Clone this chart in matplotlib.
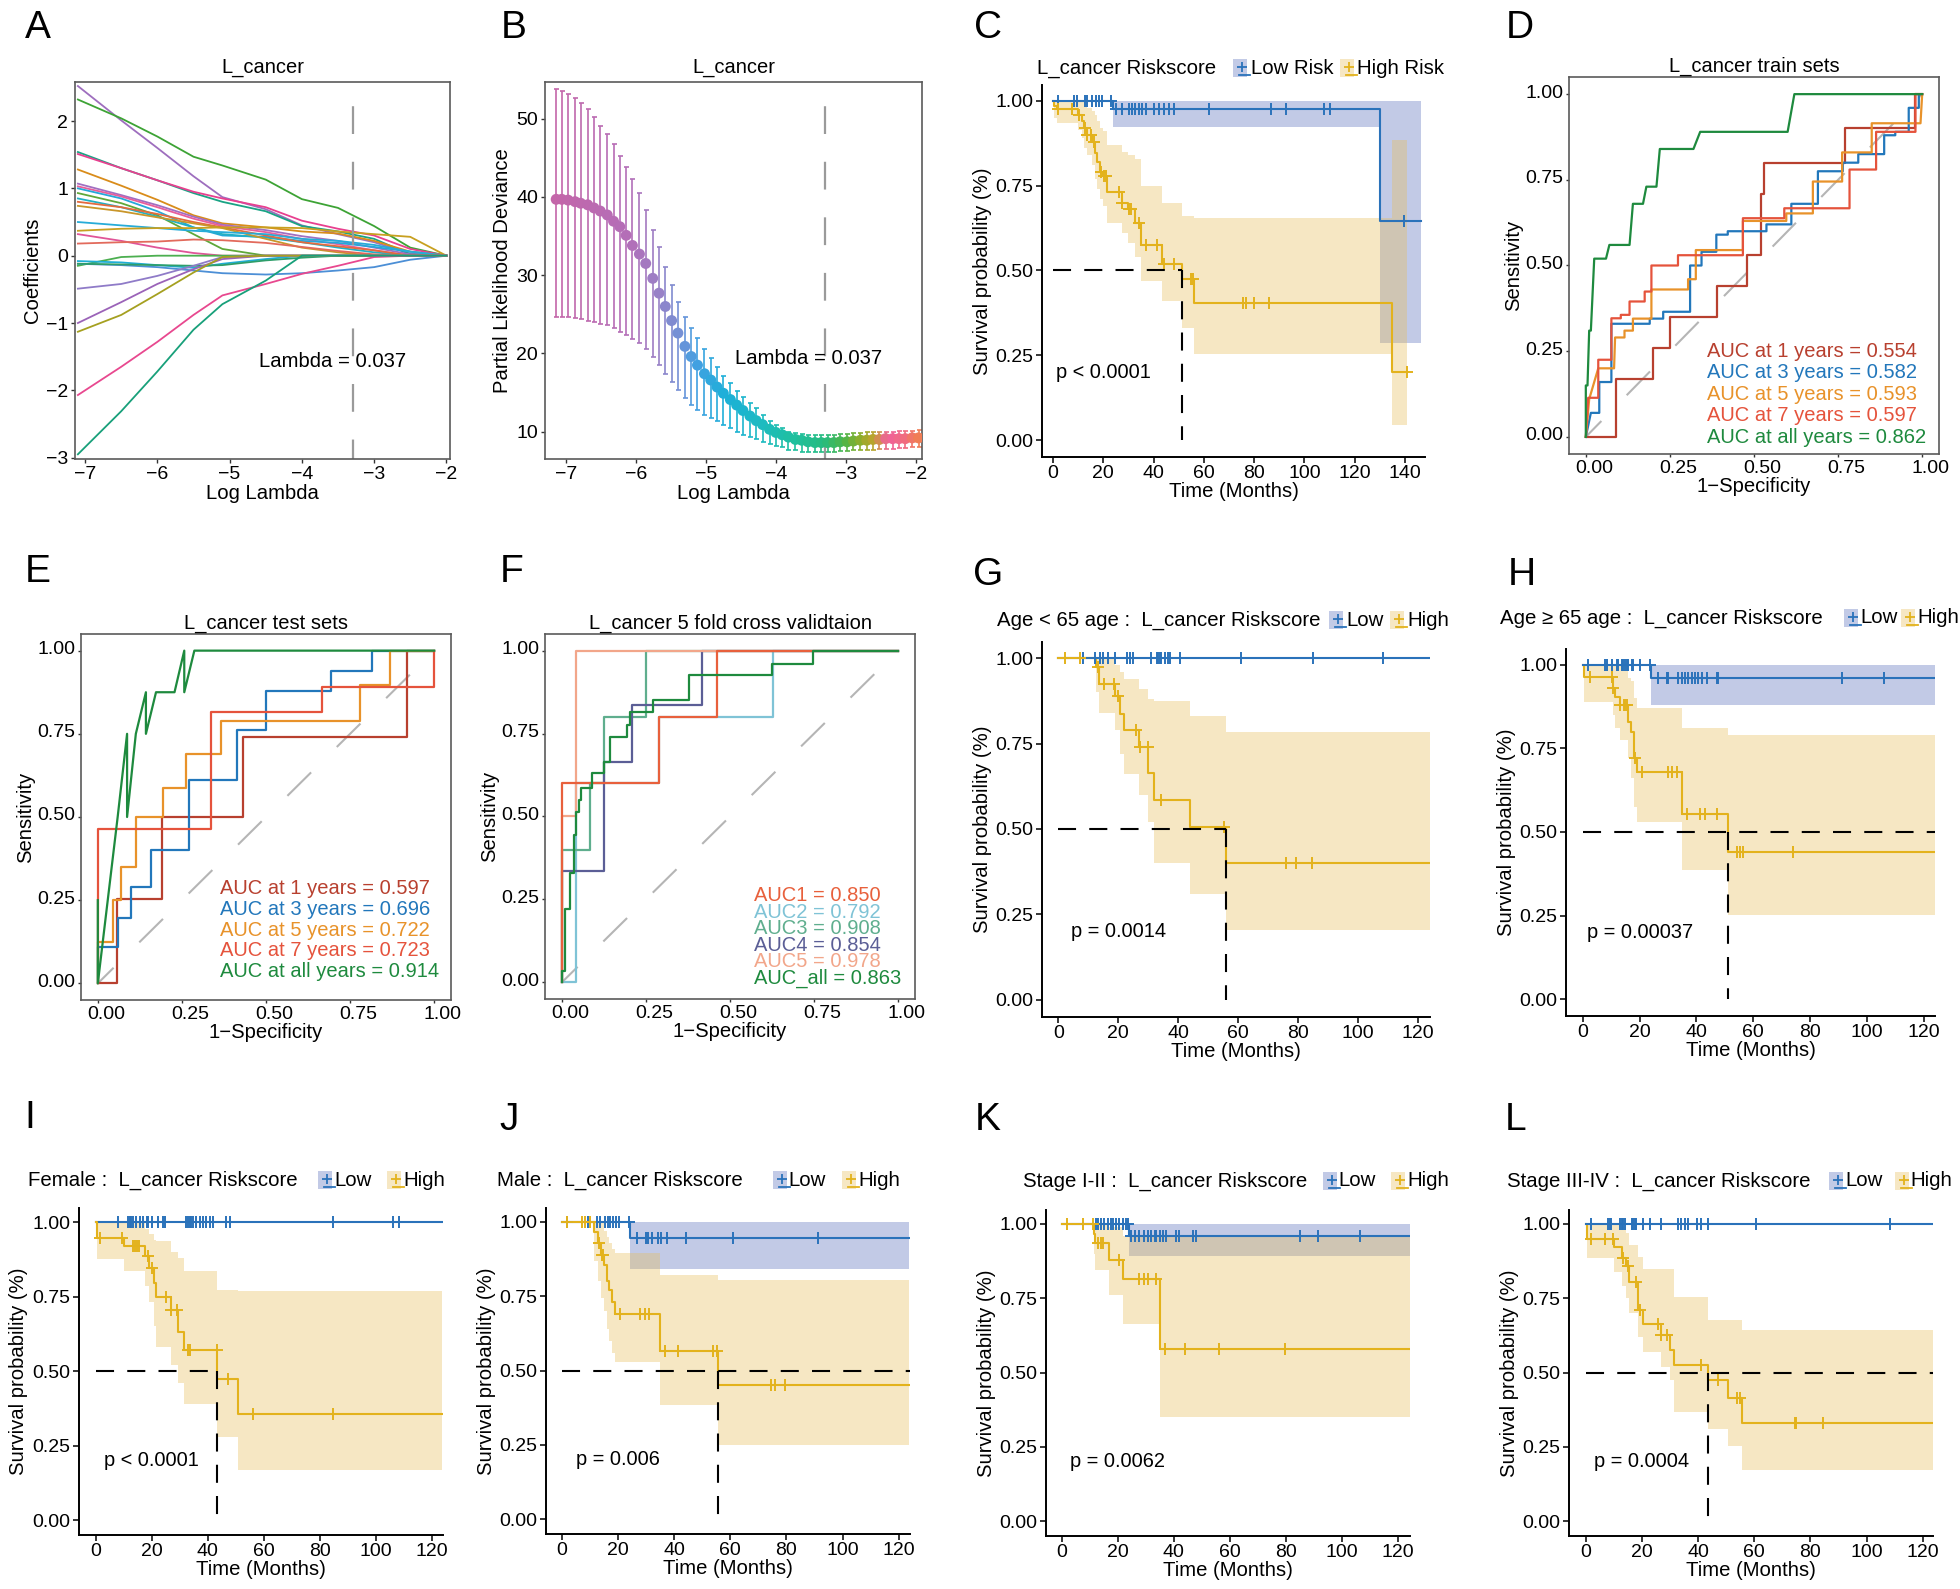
import numpy as np
import matplotlib
matplotlib.use("Agg")
import matplotlib.pyplot as plt
from matplotlib.patches import Rectangle
from matplotlib.lines import Line2D
from matplotlib.colors import LinearSegmentedColormap
from matplotlib.transforms import ScaledTranslation

plt.rcParams['font.family'] = ['Liberation Sans', 'DejaVu Sans']
plt.rcParams['lines.scale_dashes'] = False

W, H = 1960, 1589

# ---------------- A: lasso coefficient paths ----------------
lasso_loglam = [-7.1, -6.5, -6.0, -5.5, -5.1, -4.5, -4.0, -3.5, -3.0, -2.5, -2.0]
coef_paths = [
    [2.52, 2.01, 1.6, 1.18, 0.87, 0.69, 0.45, 0.32, 0.2, 0.03, 0.0],
    [2.32, 2.04, 1.77, 1.47, 1.34, 1.13, 0.84, 0.71, 0.44, 0.12, 0.0],
    [1.54, 1.3, 1.12, 0.93, 0.8, 0.66, 0.44, 0.36, 0.25, 0.02, 0.0],
    [1.51, 1.3, 1.12, 0.95, 0.85, 0.72, 0.52, 0.4, 0.3, 0.1, 0.0],
    [1.28, 1.04, 0.83, 0.6, 0.48, 0.42, 0.36, 0.33, 0.22, 0.06, 0.0],
    [1.07, 0.9, 0.75, 0.58, 0.46, 0.38, 0.29, 0.22, 0.12, 0.02, 0.0],
    [1.03, 0.88, 0.72, 0.55, 0.44, 0.35, 0.25, 0.17, 0.08, 0.0, 0.0],
    [1.0, 0.85, 0.66, 0.42, 0.3, 0.28, 0.22, 0.19, 0.13, 0.06, 0.0],
    [0.93, 0.78, 0.6, 0.32, 0.1, 0.0, 0.0, 0.0, 0.0, 0.0, 0.0],
    [0.85, 0.72, 0.58, 0.42, 0.32, 0.27, 0.2, 0.12, 0.05, 0.0, 0.0],
    [0.8, 0.72, 0.62, 0.5, 0.42, 0.3, 0.2, 0.14, 0.08, 0.0, 0.0],
    [0.74, 0.66, 0.57, 0.48, 0.41, 0.25, 0.12, 0.05, 0.0, 0.0, 0.0],
    [0.5, 0.45, 0.41, 0.37, 0.35, 0.32, 0.25, 0.22, 0.16, 0.06, 0.0],
    [0.37, 0.4, 0.41, 0.41, 0.42, 0.42, 0.41, 0.36, 0.32, 0.28, 0.0],
    [0.32, 0.22, 0.12, 0.04, 0.0, 0.0, 0.0, 0.0, 0.0, 0.0, 0.0],
    [0.18, 0.2, 0.21, 0.24, 0.23, 0.19, 0.13, 0.07, 0.02, 0.0, 0.0],
    [-0.15, -0.02, 0.0, 0.0, 0.0, 0.0, 0.0, 0.0, 0.0, 0.0, 0.0],
    [-0.08, -0.1, -0.14, -0.18, -0.12, -0.05, 0.0, 0.0, 0.0, 0.0, 0.0],
    [-0.12, -0.14, -0.17, -0.22, -0.26, -0.28, -0.26, -0.22, -0.17, -0.06, 0.0],
    [-0.12, -0.13, -0.14, -0.15, -0.14, -0.07, -0.03, 0.0, 0.0, 0.0, 0.0],
    [-0.49, -0.42, -0.3, -0.15, -0.02, 0.0, 0.0, 0.0, 0.0, 0.0, 0.0],
    [-1.0, -0.69, -0.42, -0.2, -0.05, 0.0, 0.0, 0.0, 0.0, 0.0, 0.0],
    [-1.13, -0.88, -0.57, -0.25, -0.02, 0.0, 0.0, 0.0, 0.0, 0.0, 0.0],
    [-2.07, -1.65, -1.28, -0.88, -0.59, -0.42, -0.27, -0.15, -0.02, 0.0, 0.0],
    [-2.95, -2.31, -1.72, -1.1, -0.72, -0.37, 0.0, 0.0, 0.0, 0.0, 0.0],
]
coef_colors = ['#9E6EBE', '#3DA335', '#1AA385', '#E8408F', '#D98C1A', '#A16FC1', '#E85E9C',
               '#25A7DA', '#5FA83A', '#21B0C4', '#E46A3E', '#C9962A', '#27ACD8', '#C8A020',
               '#E05598', '#E26A5C', '#4CAF50', '#1FAED6', '#4C8FD6', '#2E9E6A', '#8F7BC8',
               '#9B63B8', '#A5A020', '#E8488F', '#18A07A']

# ---------------- B: cross-validation deviance ----------------
cv_loglam = [-7.14, -7.06, -6.97, -6.87, -6.79, -6.69, -6.60, -6.51, -6.41, -6.32,
             -6.23, -6.14, -6.05, -5.95, -5.86, -5.76, -5.67, -5.58, -5.49, -5.40,
             -5.30, -5.21, -5.12, -5.02, -4.93, -4.84, -4.75, -4.65, -4.56, -4.47,
             -4.37, -4.28, -4.19, -4.09, -4.00, -3.91, -3.82, -3.72, -3.63, -3.54,
             -3.44, -3.35, -3.26, -3.17, -3.08, -2.98, -2.89, -2.79, -2.70, -2.61,
             -2.52, -2.43, -2.33, -2.24, -2.15, -2.05, -1.96]
cv_mean = [39.7, 39.7, 39.6, 39.4, 39.2, 39.0, 38.6, 38.2, 37.7, 36.9,
           36.2, 35.1, 33.8, 32.7, 31.5, 29.6, 27.7, 26.0, 24.2, 22.6,
           20.9, 19.6, 18.5, 17.4, 16.6, 15.7, 14.9, 14.1, 13.4, 12.7,
           12.0, 11.4, 10.9, 10.3, 9.9, 9.6, 9.3, 9.0, 8.9, 8.7,
           8.6, 8.6, 8.6, 8.6, 8.7, 8.7, 8.8, 8.9, 8.9, 9.0,
           9.0, 9.1, 9.1, 9.1, 9.1, 9.2, 9.2]
cv_upper = [53.8, 53.6, 53.2, 52.6, 52.0, 51.3, 50.2, 49.1, 48.0, 46.8,
            45.3, 43.8, 42.3, 40.5, 38.3, 35.8, 33.6, 31.1, 28.7, 26.6,
            24.7, 23.2, 22.0, 20.6, 19.4, 18.3, 17.1, 16.2, 15.2, 14.4,
            13.6, 13.0, 12.1, 11.4, 10.9, 10.4, 10.0, 9.8, 9.7, 9.6,
            9.6, 9.6, 9.6, 9.6, 9.7, 9.7, 9.8, 9.8, 9.9, 9.9,
            10.0, 10.0, 10.0, 10.1, 10.1, 10.1, 10.2]
cv_lower = [24.7, 24.6, 24.6, 24.5, 24.4, 24.2, 24.0, 23.8, 23.6, 23.2,
            22.8, 22.3, 21.8, 21.3, 20.6, 19.6, 18.5, 17.4, 16.4, 15.3,
            14.3, 13.4, 12.8, 12.1, 11.7, 11.3, 10.9, 10.4, 10.0, 9.6,
            9.3, 9.0, 8.7, 8.4, 8.2, 8.0, 7.7, 7.6, 7.4, 7.4,
            7.4, 7.4, 7.4, 7.4, 7.5, 7.5, 7.6, 7.6, 7.7, 7.7,
            7.8, 7.8, 7.8, 7.9, 7.9, 8.0, 8.0]
lambda_min_log = -3.297

# ---------------- ROC curves ----------------
d_fpr_1 = [0, 0.09, 0.09, 0.2, 0.2, 0.25, 0.25, 0.39, 0.39, 0.48, 0.48, 0.52, 0.52, 0.53, 0.53, 0.77, 0.77, 0.98, 0.98, 1.0]
d_tpr_1 = [0, 0, 0.17, 0.17, 0.26, 0.26, 0.35, 0.35, 0.44, 0.44, 0.53, 0.53, 0.71, 0.71, 0.80, 0.80, 0.90, 0.90, 1.0, 1.0]
d_fpr_3 = [0, 0.015, 0.04, 0.04, 0.076, 0.076, 0.19, 0.19, 0.23, 0.23, 0.31, 0.31, 0.344, 0.344, 0.388, 0.388, 0.422, 0.422,
           0.537, 0.537, 0.611, 0.611, 0.69, 0.69, 0.764, 0.764, 0.81, 0.81, 0.887, 0.887, 0.92, 0.92, 0.96, 0.96, 0.99, 0.99, 1.0]
d_tpr_3 = [0, 0.07, 0.07, 0.16, 0.16, 0.33, 0.33, 0.345, 0.345, 0.365, 0.365, 0.5, 0.5, 0.54, 0.54, 0.59, 0.59, 0.6,
           0.6, 0.62, 0.62, 0.68, 0.68, 0.775, 0.775, 0.8, 0.8, 0.825, 0.825, 0.88, 0.88, 0.89, 0.89, 0.96, 0.96, 1.0, 1.0]
d_fpr_5 = [0, 0.01, 0.037, 0.084, 0.087, 0.115, 0.115, 0.14, 0.14, 0.195, 0.195, 0.304, 0.304, 0.327, 0.327,
           0.467, 0.467, 0.596, 0.596, 0.675, 0.675, 0.762, 0.762, 0.85, 0.85, 0.995, 1.0]
d_tpr_5 = [0, 0.11, 0.2, 0.2, 0.29, 0.29, 0.31, 0.31, 0.345, 0.345, 0.43, 0.43, 0.46, 0.46, 0.545,
           0.545, 0.63, 0.63, 0.652, 0.652, 0.745, 0.745, 0.83, 0.83, 0.915, 0.915, 1.0]
d_fpr_7 = [0, 0.007, 0.037, 0.037, 0.076, 0.076, 0.104, 0.104, 0.13, 0.13, 0.175, 0.175, 0.195, 0.195, 0.274, 0.274,
           0.467, 0.467, 0.59, 0.59, 0.784, 0.784, 0.863, 0.863, 0.98, 0.98, 1.0]
d_tpr_7 = [0, 0.114, 0.114, 0.225, 0.225, 0.346, 0.346, 0.356, 0.356, 0.395, 0.395, 0.424, 0.424, 0.5, 0.5, 0.53,
           0.53, 0.638, 0.638, 0.667, 0.667, 0.78, 0.78, 0.89, 0.89, 1.0, 1.0]
d_fpr_all = [0, 0, 0.005, 0.01, 0.015, 0.025, 0.06, 0.07, 0.13, 0.14, 0.17, 0.18, 0.21, 0.22, 0.32, 0.34, 0.60, 0.62, 1.0]
d_tpr_all = [0, 0.15, 0.15, 0.31, 0.31, 0.52, 0.52, 0.56, 0.56, 0.68, 0.68, 0.73, 0.73, 0.84, 0.84, 0.89, 0.89, 1.0, 1.0]

e_fpr_1 = [0, 0.056, 0.056, 0.19, 0.19, 0.433, 0.433, 0.919, 0.919, 1.0]
e_tpr_1 = [0, 0, 0.255, 0.255, 0.5, 0.5, 0.74, 0.74, 1.0, 1.0]
e_fpr_3 = [0, 0, 0.059, 0.059, 0.099, 0.099, 0.158, 0.158, 0.272, 0.272, 0.415, 0.415, 0.499, 0.499, 0.692, 0.692, 0.815, 0.815, 1.0]
e_tpr_3 = [0, 0.108, 0.108, 0.195, 0.195, 0.29, 0.29, 0.4, 0.4, 0.61, 0.61, 0.76, 0.76, 0.88, 0.88, 0.94, 0.94, 1.0, 1.0]
e_fpr_5 = [0, 0, 0.044, 0.044, 0.069, 0.069, 0.114, 0.114, 0.193, 0.193, 0.262, 0.262, 0.366, 0.366, 0.78, 0.78, 0.868, 0.868, 1.0]
e_tpr_5 = [0, 0.125, 0.125, 0.25, 0.25, 0.35, 0.35, 0.5, 0.5, 0.586, 0.586, 0.69, 0.69, 0.79, 0.79, 0.897, 0.897, 1.0, 1.0]
e_fpr_7 = [0, 0, 0.336, 0.336, 0.667, 0.667, 1.0, 1.0]
e_tpr_7 = [0, 0.465, 0.465, 0.817, 0.817, 0.89, 0.89, 1.0]
e_fpr_all = [0, 0, 0.059, 0.087, 0.087, 0.113, 0.143, 0.143, 0.173, 0.228, 0.257, 0.257, 0.287, 1.0]
e_tpr_all = [0.25, 0, 0.5, 0.75, 0.5, 0.75, 0.875, 0.75, 0.875, 0.875, 1.0, 0.875, 1.0, 1.0]

f_fpr_1 = [0, 0, 0.29, 0.29, 0.46, 0.46, 1.0]
f_tpr_1 = [0, 0.6, 0.6, 0.8, 0.8, 1.0, 1.0]
f_fpr_2 = [0, 0.043, 0.043, 0.29, 0.29, 0.627, 0.627, 1.0]
f_tpr_2 = [0, 0, 0.6, 0.6, 0.8, 0.8, 1.0, 1.0]
f_fpr_3 = [0, 0, 0.084, 0.084, 0.126, 0.126, 0.25, 0.25, 1.0]
f_tpr_3 = [0, 0.4, 0.4, 0.6, 0.6, 0.8, 0.8, 1.0, 1.0]
f_fpr_4 = [0, 0, 0.126, 0.126, 0.208, 0.208, 0.418, 0.418, 1.0]
f_tpr_4 = [0, 0.335, 0.335, 0.665, 0.665, 0.835, 0.835, 1.0, 1.0]
f_fpr_5 = [0, 0, 0.043, 0.043, 1.0]
f_tpr_5 = [0, 0.5, 0.5, 1.0, 1.0]
f_fpr_all = [0, 0, 0.008, 0.008, 0.025, 0.025, 0.035, 0.035, 0.043, 0.043, 0.05, 0.05, 0.057, 0.057, 0.089, 0.089,
             0.126, 0.126, 0.144, 0.144, 0.193, 0.193, 0.203, 0.203, 0.27, 0.27, 0.378, 0.378, 0.624, 0.624, 0.748, 0.748, 1.0]
f_tpr_all = [0, 0.035, 0.035, 0.22, 0.22, 0.33, 0.33, 0.445, 0.445, 0.515, 0.515, 0.55, 0.55, 0.585, 0.585, 0.63,
             0.63, 0.665, 0.665, 0.74, 0.74, 0.775, 0.775, 0.815, 0.815, 0.85, 0.85, 0.925, 0.925, 0.96, 0.96, 1.0, 1.0]

# ---------------- Kaplan-Meier curves ----------------
c_low_t = [0, 24, 130]
c_low_s = [1.0, 0.975, 0.645]
c_low_lo = [1.0, 0.923, 0.286]
c_low_hi = [1.0, 1.0, 1.0]
c_low_cens = [1.9, 8.2, 9.6, 12.6, 13.6, 15.6, 16.9, 18.2, 19.5, 23.0, 24.9, 27.5, 30.2, 31.5, 32.8, 34.2,
              35.5, 36.8, 40.2, 42.2, 44.1, 46.1, 48.1, 62.1, 86.7, 92.7, 108.0, 110.0, 139.5]
c_high_t = [0, 0.5, 1.5, 10, 11.5, 12.5, 13.5, 15.5, 16.5, 17.5, 18.5, 20, 21.5, 27.5, 30, 32.5, 35, 43.5, 51.5, 56.2, 135]
c_high_s = [1.0, 0.985, 0.975, 0.96, 0.94, 0.92, 0.90, 0.88, 0.845, 0.82, 0.79, 0.78, 0.73, 0.70, 0.68, 0.64,
            0.575, 0.52, 0.475, 0.405, 0.20]
c_high_lo = [1.0, 0.95, 0.935, 0.915, 0.89, 0.86, 0.84, 0.81, 0.77, 0.74, 0.71, 0.69, 0.64, 0.61, 0.58, 0.54,
             0.47, 0.41, 0.33, 0.255, 0.045]
c_high_hi = [1.0, 1.0, 1.0, 1.0, 1.0, 0.99, 0.98, 0.97, 0.96, 0.94, 0.92, 0.91, 0.87, 0.85, 0.84, 0.83,
             0.75, 0.70, 0.66, 0.655, 0.885]
c_high_cens = [1.9, 7.6, 10.2, 12.9, 13.6, 14.9, 16.2, 18.9, 20.2, 20.9, 26.2, 27.5, 30.2, 30.9, 34.2, 36.8,
               41.5, 44.1, 48.1, 54.8, 55.8, 75.4, 76.7, 80.1, 86.0, 141.0]

g_low_t, g_low_s, g_low_lo, g_low_hi = [0], [1.0], [1.0], [1.0]
g_low_cens = [8.3, 12.2, 13.9, 15.0, 16.7, 18.9, 22.8, 23.9, 25.0, 31.1, 32.8, 33.3, 33.9, 34.4, 35.6,
              36.7, 37.2, 40.6, 61.1, 85.0, 108.3]
g_high_t = [0, 12.5, 13.5, 19, 20.5, 22, 27, 30, 32, 44, 55.8]
g_high_s = [1.0, 0.975, 0.925, 0.89, 0.835, 0.79, 0.74, 0.665, 0.585, 0.505, 0.40]
g_high_lo = [1.0, 0.90, 0.84, 0.79, 0.72, 0.66, 0.60, 0.52, 0.40, 0.31, 0.205]
g_high_hi = [1.0, 1.0, 1.0, 0.98, 0.96, 0.94, 0.91, 0.88, 0.875, 0.83, 0.785]
g_high_cens = [2.2, 7.2, 13.3, 15.2, 18.6, 20.0, 26.1, 27.2, 29.8, 34.2, 55.4, 76.1, 79.4, 84.8]

h_low_t, h_low_s, h_low_lo, h_low_hi = [0, 24], [1.0, 0.96], [1.0, 0.88], [1.0, 1.0]
h_low_cens = [2.0, 7.9, 8.4, 10.2, 12.0, 12.5, 13.7, 14.3, 14.9, 15.5, 16.1, 17.2, 17.8, 20.2, 23.7, 26.6,
              29.5, 30.1, 33.6, 34.8, 36.0, 37.2, 38.3, 39.5, 40.7, 41.9, 43.6, 47.1, 47.7, 91.4, 106.0]
h_high_t = [0, 0.5, 10.5, 11.5, 13, 16, 17, 18, 19, 35, 51]
h_high_s = [1.0, 0.963, 0.93, 0.905, 0.88, 0.83, 0.80, 0.72, 0.68, 0.555, 0.44]
h_high_lo = [1.0, 0.89, 0.85, 0.81, 0.775, 0.72, 0.66, 0.575, 0.53, 0.385, 0.253]
h_high_hi = [1.0, 1.0, 1.0, 1.0, 1.0, 0.96, 0.95, 0.90, 0.87, 0.81, 0.79]
h_high_cens = [2.6, 10.2, 10.8, 13.1, 14.5, 14.9, 15.5, 18.4, 20.8, 30.1, 31.3, 33.0, 36.6, 41.3, 43.0,
               47.1, 54.2, 55.3, 56.5, 74.1]

i_low_t, i_low_s, i_low_lo, i_low_hi = [0], [1.0], [1.0], [1.0]
i_low_cens = [8.1, 11.6, 12.2, 12.8, 13.4, 14.6, 15.8, 17.0, 18.2, 18.8, 20.0, 22.3, 24.1, 24.7, 32.4, 33.0,
              33.6, 34.2, 34.8, 36.0, 37.2, 38.4, 39.6, 40.7, 41.9, 46.7, 47.9, 84.7, 106.0, 108.4]
i_high_t = [0, 0.5, 10, 17.5, 19, 21, 21.7, 27, 29.5, 31.5, 43.5, 51]
i_high_s = [1.0, 0.945, 0.92, 0.885, 0.845, 0.795, 0.75, 0.705, 0.63, 0.57, 0.475, 0.355]
i_high_lo = [1.0, 0.875, 0.835, 0.785, 0.73, 0.65, 0.58, 0.52, 0.46, 0.39, 0.28, 0.168]
i_high_hi = [1.0, 1.0, 1.0, 0.975, 0.96, 0.94, 0.935, 0.9, 0.88, 0.834, 0.773, 0.77]
i_high_cens = [1.5, 9.5, 13.4, 14.0, 14.8, 15.6, 18.8, 20.3, 25.3, 27.1, 29.0, 33.0, 33.8, 43.2, 47.3, 56.2, 84.7]

j_low_t, j_low_s, j_low_lo, j_low_hi = [0, 24.2], [1.0, 0.945], [1.0, 0.843], [1.0, 1.0]
j_low_cens = [2.0, 9.5, 12.4, 13.6, 15.4, 16.6, 17.2, 18.4, 19.5, 20.5, 23.8, 26.7, 30.0, 30.8, 32.0, 34.4,
              35.5, 37.6, 44.2, 61.0, 91.2]
j_high_t = [0, 11.5, 13, 14, 15, 16, 17, 18, 19, 35, 55.6]
j_high_s = [1.0, 0.965, 0.93, 0.89, 0.855, 0.80, 0.77, 0.73, 0.69, 0.565, 0.45]
j_high_lo = [1.0, 0.87, 0.8, 0.745, 0.7, 0.64, 0.6, 0.56, 0.53, 0.383, 0.249]
j_high_hi = [1.0, 1.0, 1.0, 1.0, 0.97, 0.95, 0.93, 0.91, 0.894, 0.823, 0.804]
j_high_cens = [2.0, 7.1, 8.3, 10.1, 13.4, 14.2, 14.8, 20.7, 27.8, 29.6, 31.2, 36.7, 41.5, 54.0, 55.2, 74.6, 75.8, 79.4]

k_low_t, k_low_s, k_low_lo, k_low_hi = [0, 24], [1.0, 0.96], [1.0, 0.892], [1.0, 1.0]
k_low_cens = [12.3, 12.9, 14.0, 15.2, 16.4, 17.6, 18.2, 19.4, 20.6, 21.8, 23.0, 23.6, 24.8, 26.0, 27.7, 29.5,
              30.7, 31.9, 33.1, 33.7, 34.9, 36.1, 37.3, 40.8, 42.0, 46.8, 48.0, 84.9, 91.4, 106.3]
k_high_t = [0, 11.5, 12, 17, 22, 35]
k_high_s = [1.0, 0.965, 0.935, 0.88, 0.815, 0.58]
k_high_lo = [1.0, 0.9, 0.845, 0.76, 0.665, 0.35]
k_high_hi = [1.0, 1.0, 1.0, 0.99, 0.96, 0.96]
k_high_cens = [1.8, 7.5, 11.1, 12.9, 14.0, 14.6, 20.6, 27.7, 29.5, 30.9, 33.5, 36.7, 43.8, 56.1, 79.5]

l_low_t, l_low_s, l_low_lo, l_low_hi = [0], [1.0], [1.0], [1.0]
l_low_cens = [2.1, 8.0, 8.6, 9.2, 12.2, 12.8, 13.4, 14.0, 16.4, 16.9, 17.5, 18.1, 20.5, 22.9, 27.0, 32.9,
              34.1, 35.3, 36.5, 39.5, 41.2, 43.6, 60.8, 108.2]
l_high_t = [0, 0.5, 10, 13, 14.5, 15.5, 18.5, 20.5, 27, 30, 31.5, 43.5, 50.5, 55.5]
l_high_s = [1.0, 0.95, 0.922, 0.885, 0.86, 0.805, 0.71, 0.665, 0.625, 0.575, 0.525, 0.475, 0.415, 0.33]
l_high_lo = [1.0, 0.885, 0.84, 0.79, 0.75, 0.70, 0.62, 0.57, 0.52, 0.474, 0.367, 0.311, 0.252, 0.171]
l_high_hi = [1.0, 1.0, 1.0, 0.99, 0.97, 0.93, 0.89, 0.85, 0.85, 0.85, 0.755, 0.676, 0.676, 0.643]
l_high_cens = [2.1, 6.9, 9.8, 13.4, 15.0, 17.8, 19.3, 25.8, 27.0, 28.8, 41.2, 47.2, 53.7, 55.0, 74.4, 75.0, 84.5]

LOW_C, HIGH_C = '#2A72BA', '#E3B21C'
LOW_F, HIGH_F = '#5168B8', '#E8BD54'
FA = 0.35

TICK = 14
LAB = 14.6
TTL = 14.5

fig = plt.figure(figsize=(W / 100, H / 100), dpi=100)


def box(l, t, r, b):
    return fig.add_axes([l / W, 1 - b / H, (r - l) / W, (b - t) / H])


def frame(ax, col='#5a5a5a'):
    for s in ax.spines.values():
        s.set_color(col)
        s.set_linewidth(1.2)
    ax.tick_params(colors='#333333', labelcolor='black', labelsize=TICK, length=3, width=1, pad=2)


def letter(ch, x, y):
    fig.text(x / W, 1 - y / H, ch, fontsize=28, ha='center', va='center')


# ---- A ----
ax = box(75, 82, 450, 459)
for path, col in zip(coef_paths, coef_colors):
    ax.plot(lasso_loglam, path, color=col, lw=1.3)
ax.axvline(lambda_min_log, color='#9a9a9a', lw=1.6, ls=(6, (20, 20)))
ax.text(-3.57, -1.57, 'Lambda = 0.037', fontsize=14.6, ha='center', va='center')
ax.set_xlim(-7.14, -1.95)
ax.set_ylim(-3.02, 2.58)
ax.set_xticks([-7, -6, -5, -4, -3, -2])
ax.set_yticks([-3, -2, -1, 0, 1, 2])
ax.set_xlabel('Log Lambda', fontsize=LAB, labelpad=1)
ax.set_ylabel('Coefficients', fontsize=LAB, labelpad=3)
ax.set_title('L_cancer', fontsize=TTL, pad=7)
frame(ax)
letter('A', 38, 28)

# ---- B ----
ax = box(545, 82, 922, 459)
cmap = LinearSegmentedColormap.from_list('cv', [
    (0.0, '#C466A9'), (0.2, '#B36EB8'), (0.28, '#9A80C6'), (0.345, '#6D93D8'), (0.39, '#3FA1E1'),
    (0.47, '#1CB0D8'), (0.57, '#1DBBC0'), (0.66, '#1FC09F'), (0.74, '#25BC80'), (0.8, '#50B548'),
    (0.84, '#8CAE2C'), (0.885, '#C4A22E'), (0.915, '#F0609C'), (0.96, '#F06A86'), (1.0, '#F07D55')])
xs = np.array(cv_loglam)
norm = (xs - xs.min()) / (xs.max() - xs.min())
for x, m, lo, hi, v in zip(cv_loglam, cv_mean, cv_lower, cv_upper, norm):
    col = cmap(v)
    ax.errorbar([x], [m], yerr=[[m - lo], [hi - m]], fmt='none', ecolor=col, elinewidth=1.2, capsize=1.8, capthick=1.2)
ax.scatter(cv_loglam, cv_mean, s=62, c=[cmap(v) for v in norm], zorder=3, linewidths=0)
ax.axvline(lambda_min_log, color='#9a9a9a', lw=1.6, ls=(6, (20, 20)))
ax.text(-3.53, 19.4, 'Lambda = 0.037', fontsize=14.6, ha='center', va='center')
ax.set_xlim(-7.3, -1.91)
ax.set_ylim(6.5, 54.7)
ax.set_xticks([-7, -6, -5, -4, -3, -2])
ax.set_yticks([10, 20, 30, 40, 50])
ax.set_xlabel('Log Lambda', fontsize=LAB, labelpad=1)
ax.set_ylabel('Partial Likelihood Deviance', fontsize=LAB, labelpad=3)
ax.set_title('L_cancer', fontsize=TTL, pad=7)
frame(ax)
letter('B', 514, 28)


# ---- ROC panels ----
def roc(ax, curves, texts, tx, ty0, dy, title):
    ax.plot([0, 1], [0, 1], color='#b5b5b5', lw=1.5, ls=(8, (24, 26)))
    for fpr, tpr, col in curves:
        ax.plot(fpr, tpr, color=col, lw=1.6)
    for i, (txt, col) in enumerate(texts):
        ax.text(tx, ty0 - i * dy, txt, color=col, ha='left', va='center', fontsize=14.5)
    ax.set_xlim(-0.05, 1.05)
    ax.set_ylim(-0.05, 1.05)
    tk = [0, 0.25, 0.5, 0.75, 1.0]
    ax.set_xticks(tk)
    ax.set_yticks(tk)
    ax.set_xticklabels(['%.2f' % v for v in tk])
    ax.set_yticklabels(['%.2f' % v for v in tk])
    ax.set_xlabel('1\u2212Specificity', fontsize=LAB, labelpad=0)
    ax.set_ylabel('Sensitivity', fontsize=LAB, labelpad=2)
    ax.set_title(title, fontsize=TTL, pad=4)
    frame(ax)
    ax.tick_params(length=2)
    for lab in ax.get_xticklabels():
        lab.set_transform(lab.get_transform() + ScaledTranslation(0.08, 0, fig.dpi_scale_trans))
    for lab in ax.get_yticklabels():
        lab.set_transform(lab.get_transform() + ScaledTranslation(0, 0.03, fig.dpi_scale_trans))


C1, C3, C5, C7, CA = '#B8402F', '#2277BB', '#E8922A', '#E5533C', '#1E8A3E'
ax = box(1569, 77, 1939, 454)
roc(ax, [(d_fpr_1, d_tpr_1, C1), (d_fpr_3, d_tpr_3, C3), (d_fpr_5, d_tpr_5, C5),
         (d_fpr_7, d_tpr_7, C7), (d_fpr_all, d_tpr_all, CA)],
    [('AUC at 1 years = 0.554', C1), ('AUC at 3 years = 0.582', C3), ('AUC at 5 years = 0.593', C5),
     ('AUC at 7 years = 0.597', C7), ('AUC at all years = 0.862', CA)],
    0.36, 0.25, 0.063, 'L_cancer train sets')
letter('D', 1520, 28)

ax = box(81, 634, 451, 1000)
roc(ax, [(e_fpr_1, e_tpr_1, C1), (e_fpr_3, e_tpr_3, C3), (e_fpr_5, e_tpr_5, C5),
         (e_fpr_7, e_tpr_7, C7), (e_fpr_all, e_tpr_all, CA)],
    [('AUC at 1 years = 0.597', C1), ('AUC at 3 years = 0.696', C3), ('AUC at 5 years = 0.722', C5),
     ('AUC at 7 years = 0.723', C7), ('AUC at all years = 0.914', CA)],
    0.362, 0.285, 0.0625, 'L_cancer test sets')
letter('E', 38, 572)

F1, F2, F3, F4, F5 = '#E8603C', '#7FC3D6', '#5FAE8E', '#5B5E96', '#F2A68A'
ax = box(545, 634, 915, 999)
roc(ax, [(f_fpr_2, f_tpr_2, F2), (f_fpr_3, f_tpr_3, F3), (f_fpr_4, f_tpr_4, F4),
         (f_fpr_5, f_tpr_5, F5), (f_fpr_1, f_tpr_1, F1), (f_fpr_all, f_tpr_all, CA)],
    [('AUC1 = 0.850', F1), ('AUC2 = 0.792', F2), ('AUC3 = 0.908', F3),
     ('AUC4 = 0.854', F4), ('AUC5 = 0.978', F5), ('AUC_all = 0.863', CA)],
    0.572, 0.262, 0.05, 'L_cancer 5 fold cross validtaion')
letter('F', 512, 572)


# ---- KM panels ----
def km_group(ax, t, s, lo, hi, cens, end, col, fcol):
    tt = np.append(t, end)
    ax.fill_between(tt, np.append(lo, lo[-1]), np.append(hi, hi[-1]), step='post',
                    color=fcol, alpha=FA, lw=0, zorder=1)
    ax.step(tt, np.append(s, s[-1]), where='post', color=col, lw=1.5, zorder=2)
    idx = np.searchsorted(t, cens, side='right') - 1
    ax.plot(cens, np.array(s)[idx], ls='none', marker='+', ms=8, mew=1.4, color=col, zorder=3)


def km(ax, low, high, xlim, xmax_tick, med=None, full=False, pval=''):
    km_group(ax, *low, LOW_C, LOW_F)
    km_group(ax, *high, HIGH_C, HIGH_F)
    if med is not None:
        ax.plot([0, xlim[1] if full else med], [0.5, 0.5], color='black', lw=1.5, ls=(0, (13, 9.5)), zorder=4)
        ax.plot([med, med], [0.5, 0.0], color='black', lw=1.5, ls=(0, (13, 9.5)), zorder=4)
    ax.text(20, 0.2, pval, fontsize=14.4, ha='center', va='center')
    ax.set_xlim(*xlim)
    ax.set_ylim(-0.05, 1.047)
    ax.set_xticks(np.arange(0, xmax_tick + 1, 20))
    yt = [0, 0.25, 0.5, 0.75, 1.0]
    ax.set_yticks(yt)
    ax.set_yticklabels(['%.2f' % v for v in yt])
    ax.spines['top'].set_visible(False)
    ax.spines['right'].set_visible(False)
    for sp in ('left', 'bottom'):
        ax.spines[sp].set_linewidth(1.4)
    ax.tick_params(labelsize=TICK, length=4, width=1.1, pad=2)
    ax.set_xlabel('Time (Months)', fontsize=LAB, labelpad=0)
    ax.set_ylabel('Survival probability (%)', fontsize=LAB, labelpad=3)


def key(cx, cy, lc, fc):
    fig.add_artist(Rectangle(((cx - 7) / W, 1 - (cy + 9) / H), 14 / W, 18 / H, transform=fig.transFigure,
                             facecolor=fc, alpha=FA, edgecolor='none'))
    fig.add_artist(Line2D([(cx - 1) / W, (cx + 10) / W], [1 - (cy + 7) / H] * 2, transform=fig.transFigure,
                          color=lc, lw=1.3))
    fig.add_artist(Line2D([(cx + 2) / W], [1 - (cy - 1) / H], transform=fig.transFigure, color=lc,
                          marker='+', ms=7, mew=1.3))


def km_legend(title, tx, ty, entries):
    fig.text(tx / W, 1 - ty / H, title, fontsize=14.7, ha='left', va='center')
    for (kx, lx, lab), lc, fc in zip(entries, (LOW_C, HIGH_C), (LOW_F, HIGH_F)):
        key(kx, ty, lc, fc)
        fig.text(lx / W, 1 - ty / H, lab, fontsize=14.7, ha='left', va='center')


ax = box(1042, 85, 1425, 457)
km(ax, (c_low_t, c_low_s, c_low_lo, c_low_hi, c_low_cens, 146.5),
   (c_high_t, c_high_s, c_high_lo, c_high_hi, c_high_cens, 141.0),
   (-4.4, 148), 140, med=51.5, pval='p < 0.0001')
km_legend('L_cancer Riskscore', 1037, 68, [(1240, 1251, 'Low Risk'), (1347, 1357, 'High Risk')])
letter('C', 988, 28)

ax = box(1042, 642, 1430, 1017)
km(ax, (g_low_t, g_low_s, g_low_lo, g_low_hi, g_low_cens, 123.9),
   (g_high_t, g_high_s, g_high_lo, g_high_hi, g_high_cens, 123.9),
   (-5.4, 124), 120, med=55.8, pval='p = 0.0014')
km_legend('Age < 65 age :  L_cancer Riskscore', 997, 620, [(1336, 1346, 'Low'), (1397, 1407, 'High')])
letter('G', 988, 575)

ax = box(1566, 649, 1935, 1016)
km(ax, (h_low_t, h_low_s, h_low_lo, h_low_hi, h_low_cens, 124),
   (h_high_t, h_high_s, h_high_lo, h_high_hi, h_high_cens, 124),
   (-5.9, 124), 120, med=51, full=True, pval='p = 0.00037')
km_legend('Age \u2265 65 age :  L_cancer Riskscore', 1500, 618, [(1851, 1860, 'Low'), (1908, 1917, 'High')])
letter('H', 1522, 575)

ax = box(79, 1208, 443, 1535)
km(ax, (i_low_t, i_low_s, i_low_lo, i_low_hi, i_low_cens, 123.8),
   (i_high_t, i_high_s, i_high_lo, i_high_hi, i_high_cens, 123.8),
   (-5.9, 124), 120, med=43.5, pval='p < 0.0001')
km_legend('Female :  L_cancer Riskscore', 28, 1180, [(325, 334, 'Low'), (394, 403, 'High')])
letter('I', 30, 1118)

ax = box(546, 1208, 910, 1534)
km(ax, (j_low_t, j_low_s, j_low_lo, j_low_hi, j_low_cens, 123.8),
   (j_high_t, j_high_s, j_high_lo, j_high_hi, j_high_cens, 123.8),
   (-5.6, 124), 120, med=55.6, full=True, pval='p = 0.006')
km_legend('Male :  L_cancer Riskscore', 497, 1180, [(780, 788, 'Low'), (849, 858, 'High')])
letter('J', 509, 1120)

ax = box(1046, 1210, 1410, 1536)
km(ax, (k_low_t, k_low_s, k_low_lo, k_low_hi, k_low_cens, 124.2),
   (k_high_t, k_high_s, k_high_lo, k_high_hi, k_high_cens, 124.2),
   (-5.6, 124.2), 120, pval='p = 0.0062')
km_legend('Stage I-II :  L_cancer Riskscore', 1023, 1181, [(1330, 1338, 'Low'), (1398, 1407, 'High')])
letter('K', 988, 1120)

ax = box(1569, 1210, 1933, 1536)
km(ax, (l_low_t, l_low_s, l_low_lo, l_low_hi, l_low_cens, 123.6),
   (l_high_t, l_high_s, l_high_lo, l_high_hi, l_high_cens, 123.6),
   (-5.9, 123.6), 120, med=43.5, full=True, pval='p = 0.0004')
km_legend('Stage III-IV :  L_cancer Riskscore', 1507, 1181, [(1836, 1845, 'Low'), (1902, 1910, 'High')])
letter('L', 1516, 1120)

fig.savefig('out.png', dpi=100)
